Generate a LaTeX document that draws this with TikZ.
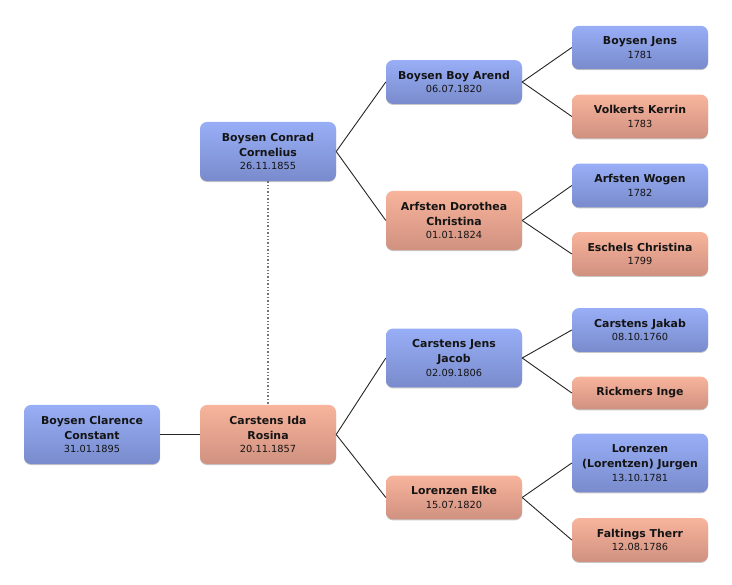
\documentclass[tikz,border=0pt]{standalone}
\usepackage{fontspec}
\setmainfont{DejaVu Sans}
\usetikzlibrary{positioning,shadows}

% 出生日期, 放在名字下面
\newcommand{\gebdat}[1]{\\[-2pt]{\mdseries\fontsize{9.8}{13}\selectfont #1}}

\begin{document}
\begin{tikzpicture}[on grid]
    \definecolor{mybluet}{RGB}{152,174,246}
    \definecolor{myblueb}{RGB}{121,139,204}
    \definecolor{myredt}{RGB}{248,180,156}
    \definecolor{myredb}{RGB}{208,145,128}
    \definecolor{mytext}{RGB}{20,20,20}

    \tikzstyle{person}=[rectangle,rounded corners=7pt,minimum width=136pt,minimum height=32pt,
        inner xsep=3pt,inner ysep=11pt,align=center,text=mytext,
        font=\bfseries\fontsize{10.9}{15.3}\selectfont,
        drop shadow={shadow xshift=0pt,shadow yshift=-1pt,fill=black,opacity=0.22}]  % 人的方框
    \tikzstyle{male}=[person,top color=mybluet,bottom color=myblueb]  % 男: 蓝色
    \tikzstyle{female}=[person,top color=myredt,bottom color=myredb]  % 女: 红色
    \tikzstyle{link}=[line width=0.9pt,black!85]

    \useasboundingbox (0,0) rectangle (732pt,-585pt);

    % 定义note
    \node[male] (root) at (92pt,-434.5pt) {Boysen Clarence\\Constant\gebdat{31.01.1895}};
    \node[female,right=176pt of root] (m) {Carstens Ida\\Rosina\gebdat{20.11.1857}};
    \node[male,above=283pt of m] (f) {Boysen Conrad\\Cornelius\gebdat{26.11.1855}};

    \node[male,above right=69.5pt and 186pt of f] (ff) {Boysen Boy Arend\gebdat{06.07.1820}};
    \node[female,below right=69pt and 186pt of f] (fm) {Arfsten Dorothea\\Christina\gebdat{01.01.1824}};
    \node[male,above right=76.5pt and 186pt of m] (mf) {Carstens Jens\\Jacob\gebdat{02.09.1806}};
    \node[female,below right=63pt and 186pt of m] (mm) {Lorenzen Elke\gebdat{15.07.1820}};

    \node[male,above right=34.5pt and 186pt of ff] (fff) {Boysen Jens\gebdat{1781}};
    \node[female,below right=34.5pt and 186pt of ff] (ffm) {Volkerts Kerrin\gebdat{1783}};
    \node[male,above right=35pt and 186pt of fm] (fmf) {Arfsten Wogen\gebdat{1782}};
    \node[female,below right=33.5pt and 186pt of fm] (fmm) {Eschels Christina\gebdat{1799}};
    \node[male,above right=28pt and 186pt of mf] (mff) {Carstens Jakab\gebdat{08.10.1760}};
    \node[female,below right=35pt and 186pt of mf] (mfm) {Rickmers Inge};
    \node[male,above right=34.5pt and 186pt of mm] (mmf) {Lorenzen\\(Lorentzen) Jurgen\gebdat{13.10.1781}};
    \node[female,below right=42.5pt and 186pt of mm] (mmm) {Faltings Therr\gebdat{12.08.1786}};

    % 开始画线
    \draw[link] (root.east) -- (m.west);
    \draw[dotted,line width=1.4pt,black!55] (f.south) -- (m.north);
    \draw[link] (f.east) -- (ff.west);
    \draw[link] (f.east) -- (fm.west);
    \draw[link] (m.east) -- (mf.west);
    \draw[link] (m.east) -- (mm.west);
    \draw[link] (ff.east) -- (fff.west);
    \draw[link] (ff.east) -- (ffm.west);
    \draw[link] (fm.east) -- (fmf.west);
    \draw[link] (fm.east) -- (fmm.west);
    \draw[link] (mf.east) -- (mff.west);
    \draw[link] (mf.east) -- (mfm.west);
    \draw[link] (mm.east) -- (mmf.west);
    \draw[link] (mm.east) -- (mmm.west);
\end{tikzpicture}
\end{document}
